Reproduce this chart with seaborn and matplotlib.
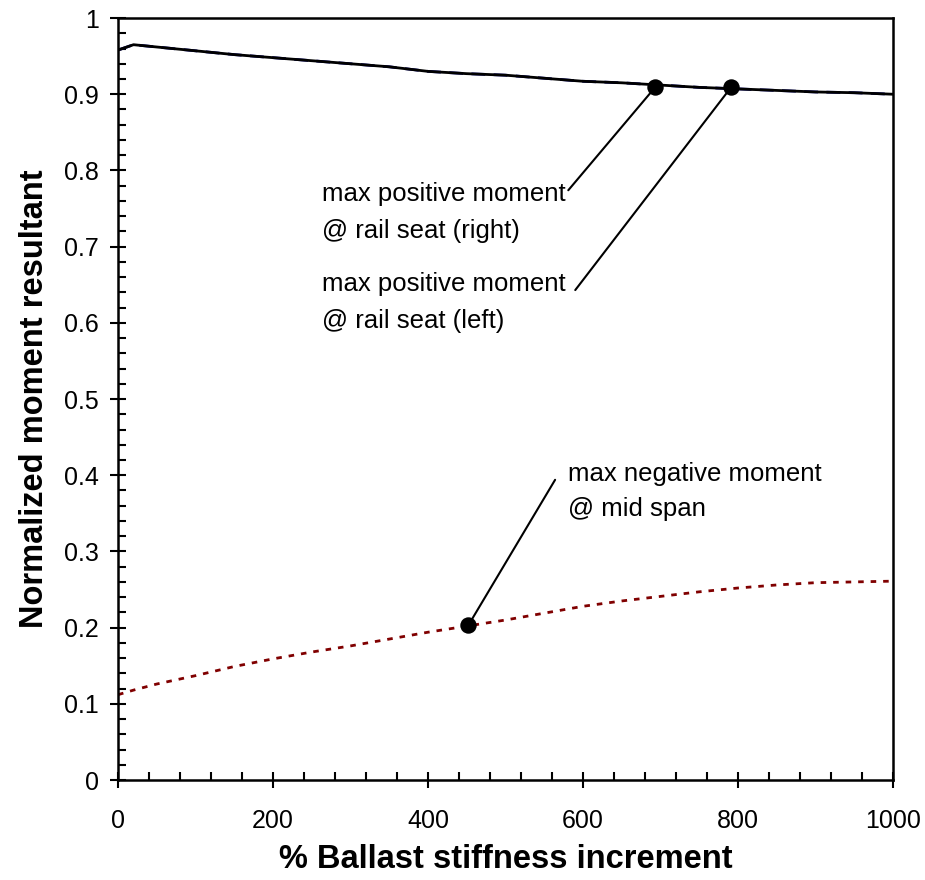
import numpy as np
import pandas as pd
import seaborn as sns
from matplotlib import pyplot as plt
from matplotlib.ticker import MultipleLocator

# % ballast stiffness increment
stiffness = [0, 20, 50, 100, 150, 200, 250, 300, 350, 400, 450, 500, 550, 600,
             650, 700, 750, 800, 850, 900, 950, 1000]
# max positive moment @ rail seat (right / left) -- practically identical
pos_right = [0.958, 0.965, 0.962, 0.957, 0.952, 0.948, 0.944, 0.940, 0.936, 0.930,
             0.927, 0.925, 0.921, 0.917, 0.915, 0.912, 0.909, 0.907, 0.905, 0.903,
             0.902, 0.900]
pos_left = [0.958, 0.965, 0.962, 0.957, 0.952, 0.948, 0.944, 0.940, 0.936, 0.930,
            0.927, 0.925, 0.921, 0.917, 0.915, 0.912, 0.909, 0.907, 0.905, 0.903,
            0.902, 0.900]
# max negative moment @ mid span
neg_mid = [0.112, 0.118, 0.126, 0.137, 0.149, 0.159, 0.168, 0.176, 0.185, 0.194,
           0.202, 0.210, 0.219, 0.228, 0.235, 0.241, 0.247, 0.252, 0.256, 0.259,
           0.260, 0.261]

# highlighted points
pt_x = [693, 791, 452]
pt_y = [0.909, 0.909, 0.203]

df = pd.DataFrame({
    "stiffness": stiffness * 3,
    "moment": pos_left + pos_right + neg_mid,
    "series": ["left"] * len(stiffness) + ["right"] * len(stiffness) + ["mid"] * len(stiffness),
})

sns.set_style("ticks")
plt.rcParams["font.family"] = ["Liberation Sans", "DejaVu Sans"]
plt.rcParams["text.color"] = "black"
plt.rcParams["axes.labelcolor"] = "black"
plt.rcParams["xtick.color"] = "black"
plt.rcParams["ytick.color"] = "black"

fig, ax = plt.subplots(figsize=(9.25, 8.8), dpi=100)
fig.subplots_adjust(left=0.1276, right=0.9654, bottom=0.1136, top=0.9795)

sns.lineplot(data=df, x="stiffness", y="moment", hue="series", style="series",
             palette={"left": "#000080", "right": "black", "mid": "#800000"},
             dashes={"left": (5, 3), "right": "", "mid": (2, 2.5)},
             linewidth=2, legend=False, ax=ax)
sns.scatterplot(x=pt_x, y=pt_y, color="black", s=140, zorder=5, ax=ax, linewidth=0)

# leader lines
ax.plot([581, pt_x[0]], [0.774, pt_y[0]], color="black", lw=1.5)
ax.plot([590, pt_x[1]], [0.643, pt_y[1]], color="black", lw=1.5)
ax.plot([564, pt_x[2]], [0.394, pt_y[2]], color="black", lw=1.5)

ax.text(263, 0.785, "max positive moment\n@ rail seat (right)", fontsize=18.5,
        va="top", ha="left", linespacing=1.68)
ax.text(263, 0.667, "max positive moment\n@ rail seat (left)", fontsize=18.5,
        va="top", ha="left", linespacing=1.68)
ax.text(581, 0.418, "max negative moment\n@ mid span", fontsize=18.5,
        va="top", ha="left", linespacing=1.6)

ax.set_xlim(0, 1000)
ax.set_ylim(0, 1)
ax.xaxis.set_major_locator(MultipleLocator(200))
ax.xaxis.set_minor_locator(MultipleLocator(40))
ax.yaxis.set_major_locator(MultipleLocator(0.1))
ax.yaxis.set_minor_locator(MultipleLocator(0.02))
ax.set_yticks(np.arange(0, 1.01, 0.1))
ax.set_yticklabels(["0", "0.1", "0.2", "0.3", "0.4", "0.5", "0.6", "0.7", "0.8", "0.9", "1"])
ax.tick_params(which="major", direction="inout", length=12, width=1.5, labelsize=18, pad=8)
ax.tick_params(axis="x", which="major", pad=15)
ax.tick_params(which="minor", direction="in", length=6, width=1.5)
for sp in ax.spines.values():
    sp.set_linewidth(1.8)
    sp.set_color("black")

ax.set_xlabel("% Ballast stiffness increment", fontsize=23.5, fontweight="bold", labelpad=8)
ax.set_ylabel("Normalized moment resultant", fontsize=23.5, fontweight="bold", labelpad=10)

fig.savefig("out.png", dpi=100)
